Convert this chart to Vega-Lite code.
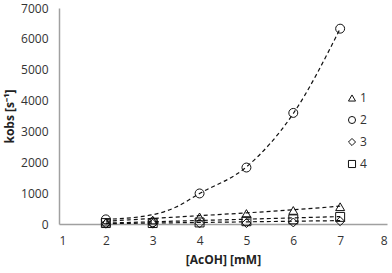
{
  "$schema": "https://vega.github.io/schema/vega-lite/v6.json",
  "width": 328,
  "height": 216,
  "autosize": "none",
  "padding": {"left": 59, "top": 8, "right": 5, "bottom": 49},
  "config": {
    "view": {"stroke": null},
    "font": "Open Sans",
    "axis": {
      "grid": false,
      "ticks": false,
      "domainColor": "#a0a0a0",
      "domainWidth": 1.5,
      "labelColor": "#333333",
      "labelFontSize": 12,
      "labelFont": "Open Sans",
      "labelOverlap": false,
      "titleFont": "Open Sans",
      "titleFontSize": 12,
      "titleFontWeight": "bold",
      "titleColor": "#222222"
    },
    "legend": {
      "labelFont": "Open Sans",
      "labelFontSize": 12,
      "labelColor": "#333333"
    }
  },
  "datasets": {
    "points": [
      {"s": "1", "x": 2, "y": 60}, {"s": "1", "x": 3, "y": 130}, {"s": "1", "x": 4, "y": 230},
      {"s": "1", "x": 5, "y": 340}, {"s": "1", "x": 6, "y": 440}, {"s": "1", "x": 7, "y": 560},
      {"s": "2", "x": 2, "y": 150}, {"s": "2", "x": 3, "y": 60}, {"s": "2", "x": 4, "y": 990},
      {"s": "2", "x": 5, "y": 1830}, {"s": "2", "x": 6, "y": 3600}, {"s": "2", "x": 7, "y": 6330},
      {"s": "3", "x": 2, "y": 10}, {"s": "3", "x": 3, "y": 10}, {"s": "3", "x": 4, "y": 20},
      {"s": "3", "x": 5, "y": 30}, {"s": "3", "x": 6, "y": 50}, {"s": "3", "x": 7, "y": 90},
      {"s": "4", "x": 2, "y": 30}, {"s": "4", "x": 3, "y": 30}, {"s": "4", "x": 4, "y": 50},
      {"s": "4", "x": 5, "y": 90}, {"s": "4", "x": 6, "y": 150}, {"s": "4", "x": 7, "y": 230}
    ],
    "trend": [
      {"s": "1", "x": 2, "y": 90}, {"s": "1", "x": 3, "y": 180}, {"s": "1", "x": 4, "y": 270},
      {"s": "1", "x": 5, "y": 360}, {"s": "1", "x": 6, "y": 460}, {"s": "1", "x": 7, "y": 580},
      {"s": "2", "x": 2, "y": 150}, {"s": "2", "x": 3, "y": 300}, {"s": "2", "x": 3.5, "y": 550},
      {"s": "2", "x": 4, "y": 990}, {"s": "2", "x": 5, "y": 1850}, {"s": "2", "x": 6, "y": 3580},
      {"s": "2", "x": 7, "y": 6330},
      {"s": "3", "x": 2, "y": 10}, {"s": "3", "x": 7, "y": 110},
      {"s": "4", "x": 2, "y": 30}, {"s": "4", "x": 7, "y": 240}
    ]
  },
  "layer": [
    {
      "data": {"name": "trend"},
      "mark": {"type": "line", "strokeDash": [4, 3], "color": "#111111", "strokeWidth": 1.2, "interpolate": "monotone"},
      "encoding": {
        "x": {"field": "x", "type": "quantitative", "scale": {"domain": [1, 8], "nice": false},
          "axis": {"values": [1, 2, 3, 4, 5, 6, 7, 8], "format": "d", "labelOverlap": false, "title": "[AcOH] [mM]", "labelPadding": 11, "titlePadding": 8}},
        "y": {"field": "y", "type": "quantitative", "scale": {"domain": [0, 7000], "nice": false},
          "axis": {"values": [0, 1000, 2000, 3000, 4000, 5000, 6000, 7000], "tickCount": 8, "labelOverlap": false, "format": "d", "title": "kobs [s⁻¹]", "labelPadding": 11, "titlePadding": 4}},
        "detail": {"field": "s", "type": "nominal"}
      }
    },
    {
      "data": {"name": "points"},
      "mark": {"type": "point", "filled": false, "color": "#111111", "size": 80, "strokeWidth": 1, "opacity": 1},
      "encoding": {
        "x": {"field": "x", "type": "quantitative"},
        "y": {"field": "y", "type": "quantitative"},
        "shape": {"field": "s", "type": "nominal",
          "scale": {"domain": ["1", "2", "3", "4"], "range": ["triangle-up", "circle", "diamond", "square"]},
          "legend": {"orient": "none", "legendX": 287, "legendY": 84, "title": null, "rowPadding": 10,
            "symbolStrokeColor": "#111111", "symbolFillColor": "transparent", "symbolSize": 50, "symbolStrokeWidth": 1, "labelOffset": 2}}
      }
    }
  ]
}
